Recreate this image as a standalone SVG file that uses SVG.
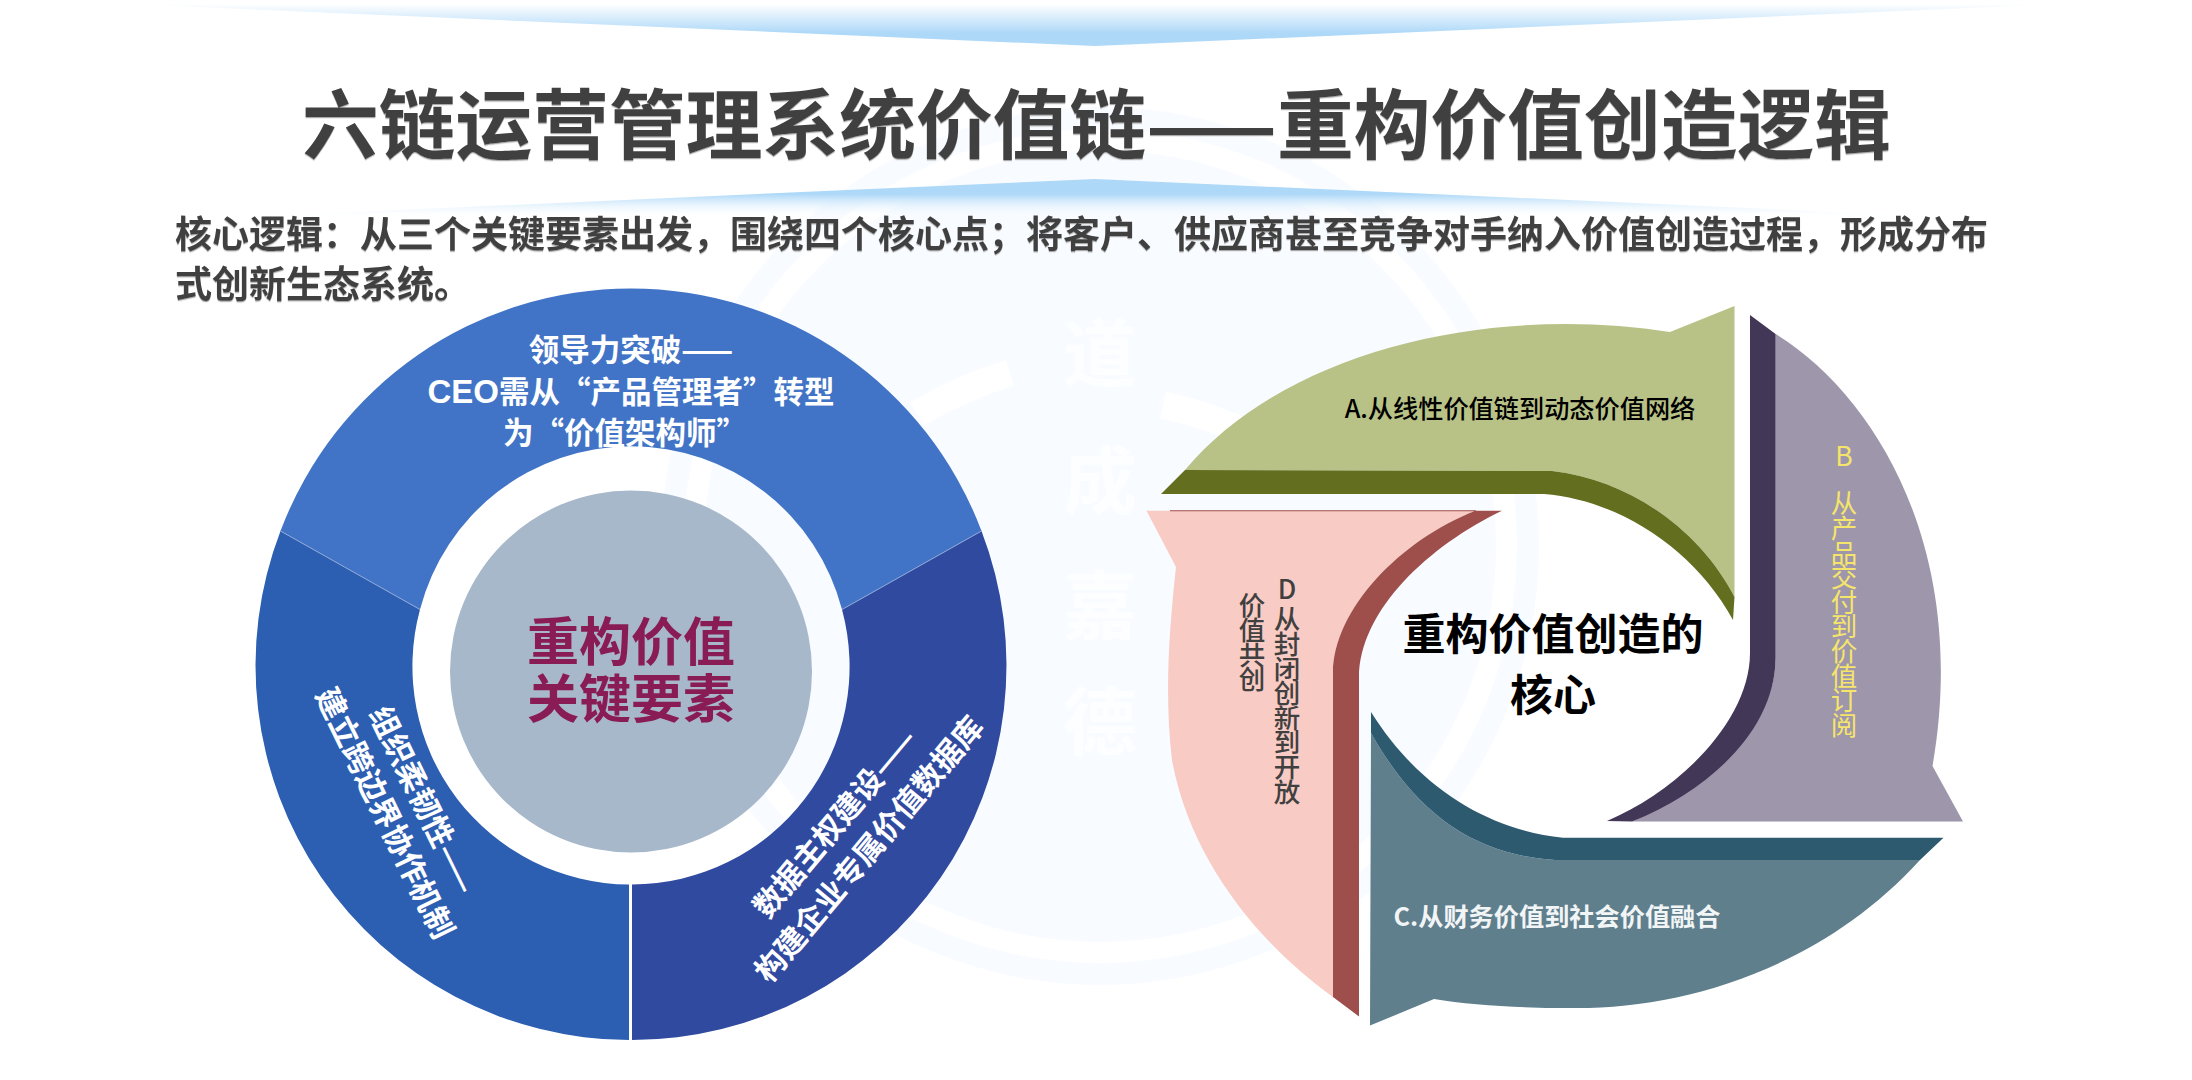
<svg xmlns="http://www.w3.org/2000/svg" width="2192" height="1080" viewBox="0 0 2192 1080">
<defs>
<linearGradient id="gt" gradientUnits="userSpaceOnUse" x1="0" y1="4" x2="0" y2="46"><stop offset="0" stop-color="#fff"/><stop offset=".7" stop-color="#ADD8F8"/><stop offset="1" stop-color="#ADD8F8"/></linearGradient>
<linearGradient id="gb" gradientUnits="userSpaceOnUse" x1="0" y1="179" x2="0" y2="222"><stop offset="0" stop-color="#ADD8F8"/><stop offset=".35" stop-color="#ADD8F8"/><stop offset=".9" stop-color="#fff" stop-opacity="0"/></linearGradient>
<filter id="sh" x="-2%" y="-10%" width="104%" height="125%"><feDropShadow dx="0" dy="1.2" stdDeviation=".3" flood-color="#aaa"/></filter>
</defs>
<style>
text{font-family:"Noto Sans CJK SC","Liberation Sans",sans-serif}
.h{font-weight:700;fill:#404040;filter:url(#sh)}
.w{font-weight:700;fill:#fff;font-size:30.5px;text-anchor:middle}
.v{writing-mode:vertical-rl;text-orientation:upright;font-size:26.5px;letter-spacing:-1.9px}
.m{font-size:74px;font-weight:700;text-anchor:middle;fill:#FDFEFF}
.arc{fill:none;stroke:#fff;stroke-width:27}
</style>
<rect width="2192" height="1080" fill="#fff"/>
<g id="watermark">
<circle cx="1100" cy="546" r="439" fill="#F8FBFF"/>
<circle cx="1100" cy="546" r="417" fill="#FFFFFF"/>
<circle cx="1100" cy="546" r="396" fill="#F8FBFF"/>
<path class="arc" d="M917 414Q960 388 1010 373"/>
<path class="arc" d="M1163 405Q1210 415 1250 435"/>
<text class="m" x="1100" y="381">道</text>
<text class="m" x="1100" y="508">成</text>
<text class="m" x="1100" y="633">嘉</text>
<text class="m" x="1100" y="749">德</text>
</g>
<polygon id="banner-top" points="130,4 2060,4 1095,46" fill="url(#gt)"/>
<polygon id="banner-bottom" points="1095,179 2060,222 130,222" fill="url(#gb)"/>
<g id="title"><text class="h" x="302" y="153" font-size="75.7" textLength="1589" lengthAdjust="spacingAndGlyphs">六链运营管理系统价值链——重构价值创造逻辑</text></g>
<g id="subtitle"><text class="h" x="175" y="248" font-size="37">核心逻辑：从三个关键要素出发，围绕四个核心点；将客户、供应商甚至竞争对手纳入价值创造过程，形成分布</text>
<text class="h" x="175" y="298" font-size="37">式创新生态系统。</text></g>
<g id="connectors"/>
<g id="donut">
<g id="seg-top"><path d="M280.5 531A374.5 374.5 0 0 1 981.5 531L842 609.5A218 218 0 0 0 420 609.5Z" fill="#4174C6"/>
<text class="w" x="631" y="361">领导力突破——</text>
<text class="w" x="631" y="403"><tspan font-family="Liberation Sans" font-size="33">CEO</tspan>需从“产品管理者”转型</text>
<text class="w" x="625" y="444">为“价值架构师”</text></g>
<g id="seg-left"><path d="M280.5 531A374.5 374.5 0 0 0 629 1040V884.5A218 218 0 0 1 420 609.5Z" fill="#2C5EB2"/>
<text class="w" transform="translate(423 800) rotate(64)" y="11">组织柔韧性——</text>
<text class="w" transform="translate(385 813) rotate(64)" y="11">建立跨边界协作机制</text></g>
<g id="seg-right"><path d="M981.5 531A374.5 374.5 0 0 1 632 1040V884.5A218 218 0 0 0 842 609.5Z" fill="#304AA0"/>
<text class="w" transform="translate(835 823) rotate(-50)" y="11">数据主权建设——</text>
<text class="w" transform="translate(869 849) rotate(-50)" y="11">构建企业专属价值数据库</text></g>
<path d="M280.5 531L420 609.5M981.5 531L842 609.5" stroke="#8FA8D8" stroke-width="1" fill="none"/>
<g id="hub"><circle cx="631" cy="671.5" r="181" fill="#A7B8CB"/>
<text x="631" y="661" font-size="52" font-weight="700" text-anchor="middle" fill="#8A1C55">重构价值</text>
<text x="631" y="718" font-size="52" font-weight="700" text-anchor="middle" fill="#8A1C55">关键要素</text></g>
</g>
<g id="cycle">
<g id="arrow-a"><path d="M1734.5 306L1670 332C1500 305 1290 345 1185 470L1552 471C1630 480 1700 530 1734.5 597Z" fill="#B8C286"/>
<path d="M1185 470L1161 494L1544 494C1620 500 1695 550 1733 620L1734.5 597C1700 530 1630 480 1552 471Z" fill="#636E1E"/>
<text x="1520" y="418" font-size="25.2" font-weight="500" text-anchor="middle" fill="#000">A.从线性价值链到动态价值网络</text></g>
<g id="arrow-b"><path d="M1775.6 334C1875 395 1970 550 1932.5 766L1963 821.6L1632 821.6C1720 780 1775.6 720 1775.6 658Z" fill="#9E96AB"/>
<path d="M1750 315L1775.6 334L1775.6 658C1775 730 1710 790 1632 821.6L1607 821C1680 790 1750 720 1750 653Z" fill="#433757"/>
<text class="v" x="1844" y="443" fill="#F5E56B" font-weight="400">B</text>
<text class="v" x="1844" y="490" fill="#F5E56B" font-weight="400">从产品交付到价值订阅</text></g>
<g id="arrow-c"><path d="M1920 860C1820 970 1680 1010 1569 1008C1520 1008 1470 1005 1434 999L1370 1025.6L1371 733C1420 820 1480 855 1555 860Z" fill="#5F7F8D"/>
<path d="M1371 712C1420 790 1490 830 1563 837.7L1943.5 837.7L1920 860L1555 860C1480 855 1420 820 1371 733Z" fill="#2E5A70"/>
<text x="1557" y="926" font-size="25.2" font-weight="700" text-anchor="middle" fill="#F2F5F6">C.从财务价值到社会价值融合</text></g>
<g id="arrow-d"><path d="M1146.5 510.7L1475.6 510.7C1400 540 1333 610 1333 673L1333 997C1260 945 1190 860 1172 760C1165 700 1168 640 1176 567Z" fill="#F8CBC4"/>
<path d="M1475.6 510.7L1502 510.7C1430 545 1359 610 1359 678L1359 1016.5L1333 997L1333 673C1333 610 1400 540 1475.6 510.7ZM1170 510.2H1476V511.2H1170Z" fill="#9E4F4B"/>
<text class="v" x="1287" y="576" fill="#404040" font-weight="500">D</text>
<text class="v" x="1287" y="606" fill="#404040" font-weight="500">从封闭创新到开放</text>
<text class="v" x="1252" y="592" fill="#404040" font-weight="500">价值共创</text></g>
<g id="core"><text x="1553" y="650" font-size="43" font-weight="700" text-anchor="middle" fill="#000">重构价值创造的</text>
<text x="1553" y="711" font-size="43" font-weight="700" text-anchor="middle" fill="#000">核心</text></g>
</g>
</svg>
